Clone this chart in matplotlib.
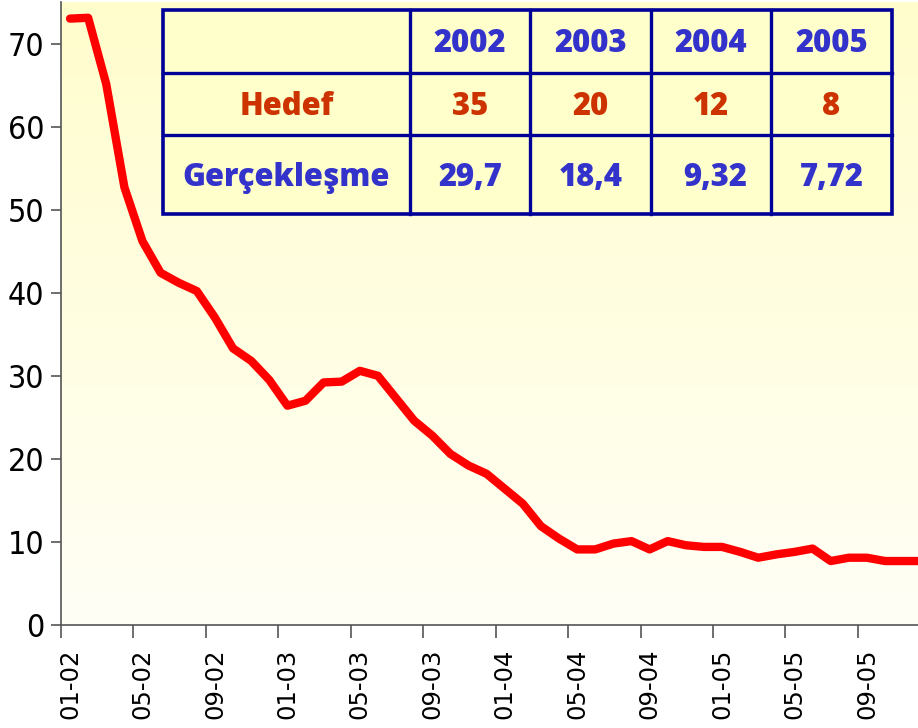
import numpy as np
import matplotlib
matplotlib.use("Agg")
import matplotlib.pyplot as plt
from matplotlib.patches import Rectangle

# ---- data ----
months = list(range(48))  # 01-02 ... 12-05
inflation = [73.0, 73.1, 65.1, 52.7, 46.2, 42.4, 41.2, 40.2, 37.0, 33.3, 31.8, 29.5,
             26.4, 27.0, 29.2, 29.3, 30.6, 30.0, 27.3, 24.6, 22.8, 20.6, 19.2, 18.2,
             16.4, 14.6, 11.9, 10.4, 9.1, 9.1, 9.8, 10.1, 9.1, 10.1, 9.6, 9.4,
             9.4, 8.8, 8.1, 8.5, 8.8, 9.2, 7.7, 8.1, 8.1, 7.7, 7.7, 7.7]
tick_labels = ['01-02', '05-02', '09-02', '01-03', '05-03', '09-03',
               '01-04', '05-04', '09-04', '01-05', '05-05', '09-05']
y_ticks = [0, 10, 20, 30, 40, 50, 60, 70]

table_years = ['2002', '2003', '2004', '2005']
table_rows = ['Hedef', 'Gerçekleşme']
hedef = ['35', '20', '12', '8']
gerceklesme = ['29,7', '18,4', '9,32', '7,72']

W, H = 918, 728
fig = plt.figure(figsize=(W / 100, H / 100), dpi=100)
fig.patch.set_facecolor('white')

ax = fig.add_axes([61 / W, (H - 625) / H, (W - 61) / W, (625 - 2) / H])
ax.set_xlim(-0.5, 46.82)
ax.set_ylim(0, 75)

# gradient background
top = np.array([255, 253, 204]) / 255
bot = np.array([255, 255, 246]) / 255
t = np.linspace(0, 1, 256)[:, None]
grad = top[None, :] * (1 - t) + bot[None, :] * t
grad = np.repeat(grad[:, None, :], 2, axis=1)
ax.imshow(grad, extent=[0, 1, 0, 1], transform=ax.transAxes, aspect='auto',
          zorder=0, interpolation='bilinear')

ax.plot(months, inflation, color='#FF0000', lw=6.0, solid_joinstyle='round',
        solid_capstyle='round', zorder=3, clip_on=True)

for s in ['top', 'right']:
    ax.spines[s].set_visible(False)
for s in ['left', 'bottom']:
    ax.spines[s].set_color('#555555')
    ax.spines[s].set_linewidth(1.2)

ax.set_yticks(y_ticks)
ax.set_yticklabels([str(v) for v in y_ticks])
ax.tick_params(axis='y', direction='out', length=7, width=1.2, color='#555555', pad=5)
for lab in ax.get_yticklabels():
    lab.set_family(['Liberation Sans Narrow', 'DejaVu Sans'])
    lab.set_fontstretch('condensed')
    lab.set_fontsize(23)
    lab.set_color('black')

major_x = [p - 0.5 for p in range(0, 48, 4)]
ax.set_xticks(major_x)
ax.set_xticklabels([])
ax.tick_params(axis='x', which='major', direction='out', length=9, width=1.2, color='#555555')
ax.set_xticks(list(range(0, 48, 4)), minor=True)
ax.set_xticklabels(tick_labels, minor=True, rotation=90, fontsize=17.5,
                   family='DejaVu Sans', color='black')
ax.tick_params(axis='x', which='minor', length=0, pad=17)

# ---- table ----
col_edges = [163, 410, 530, 651, 771, 892]
row_edges = [10, 73, 135, 214]
tax = fig.add_axes([0, 0, 1, 1], zorder=5)
tax.set_xlim(0, W)
tax.set_ylim(H, 0)
tax.axis('off')
tax.patch.set_alpha(0)
navy = '#000099'
tax.add_patch(Rectangle((col_edges[0], row_edges[0]), col_edges[-1] - col_edges[0],
                        row_edges[-1] - row_edges[0], facecolor='#FFFFCC',
                        edgecolor=navy, lw=2.6))
for x in col_edges[1:-1]:
    tax.plot([x, x], [row_edges[0], row_edges[-1]], color=navy, lw=2.4)
for y in row_edges[1:-1]:
    tax.plot([col_edges[0], col_edges[-1]], [y, y], color=navy, lw=2.4)

blue = '#3333CC'
orange = '#CC3300'
fp = dict(family=['Open Sans', 'DejaVu Sans'], fontweight=800, fontsize=22.3,
          ha='center', va='center')

def cx(i):
    return (col_edges[i] + col_edges[i + 1]) / 2

def cy(j):
    return (row_edges[j] + row_edges[j + 1]) / 2 + 3

for i, yr in enumerate(table_years):
    tax.text(cx(i + 1), cy(0), yr, color=blue, **fp)
tax.text(cx(0), cy(1), table_rows[0], color=orange, **fp)
tax.text(cx(0), cy(2), table_rows[1], color=blue, **fp)
for i, v in enumerate(hedef):
    tax.text(cx(i + 1), cy(1), v, color=orange, **fp)
for i, v in enumerate(gerceklesme):
    tax.text(cx(i + 1) + (4 if v == '9,32' else 0), cy(2), v, color=blue, **fp)

fig.savefig('out.png', dpi=100, facecolor='white')
